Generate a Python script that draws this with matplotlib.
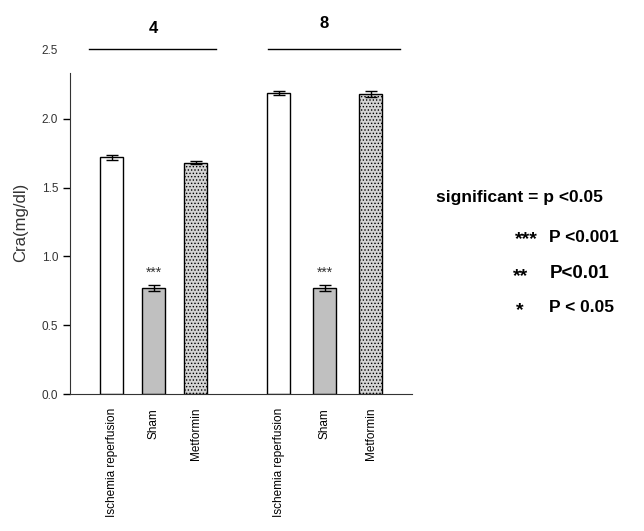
import matplotlib.pyplot as plt
import numpy as np

plt.rcParams['font.family'] = ['Liberation Sans', 'DejaVu Sans']
plt.rcParams['hatch.linewidth'] = 0.6

# data
groups = ["4", "8"]
treatments = ["Ischemia reperfusion", "Sham", "Metformin"]
cra_4 = [1.72, 0.77, 1.68]
err_4 = [0.02, 0.025, 0.01]
cra_8 = [2.19, 0.77, 2.18]
err_8 = [0.015, 0.025, 0.025]
sig_4 = ["", "***", ""]
sig_8 = ["", "***", ""]

fig = plt.figure(figsize=(6.44, 5.31), dpi=100)

ax = fig.add_axes([0.1087, 0.258, 0.5311, 0.648])

styles = [dict(color='white', edgecolor='black'),
          dict(color='#c0c0c0', edgecolor='black'),
          dict(color='#d4d4d4', edgecolor='black', hatch='.....')]

# header line extents / label heights differ a little per group in the original
line_off = [(-23, 20), (-11, 29)]
label_y = [2.60, 2.64]

all_pos, all_lab = [], []
for g, (vals, errs, sigs) in enumerate([(cra_4, err_4, sig_4), (cra_8, err_8, sig_8)]):
    pos = 41.5 + g * 167 + np.arange(3) * (42 + 4 * g)
    for i in range(3):
        ax.bar(pos[i], vals[i], width=23, linewidth=1, **styles[i])
        ax.errorbar(pos[i], vals[i], yerr=errs[i], fmt='none', ecolor='black',
                    elinewidth=1, capsize=4, capthick=1)
        if sigs[i]:
            ax.text(pos[i], vals[i] + 0.06, sigs[i], ha='center', va='bottom',
                    fontsize=10, color='#333333')
    # group header
    lo, hi = line_off[g]
    ax.plot([pos[0] + lo, pos[2] + hi], [2.51, 2.51], color='black', lw=1, clip_on=False)
    ax.text(pos[1], label_y[g], groups[g], ha='center', va='bottom', fontsize=12, weight='bold')
    all_pos += list(pos)
    all_lab += treatments

ax.set_xlim(0, 342)
ax.set_ylim(0, 2.5)
ax.set_xticks(all_pos)
ax.set_xticklabels(all_lab, rotation=90, va='top', fontsize=8.5)
ax.tick_params(axis='x', length=0, pad=10)
ax.set_yticks([0, 0.5, 1.0, 1.5, 2.0, 2.5])
ax.set_yticklabels(['0.0', '0.5', '1.0', '1.5', '2.0', '2.5'], fontsize=8.5, color='#333333')
ax.tick_params(axis='y', length=5, direction='out', width=1)
ax.yaxis.get_major_ticks()[-1].tick1line.set_visible(False)
ax.set_ylabel("Cra(mg/dl)", fontsize=12, color='#333333', labelpad=10)

for s in ['top', 'right']:
    ax.spines[s].set_visible(False)
ax.spines['left'].set_bounds(0, 2.33)
ax.spines['left'].set_color('#333333')
ax.spines['bottom'].set_color('#333333')

# significance legend
fig.text(0.677, 0.628, "significant = p <0.05", fontsize=12.5, weight='bold', va='center')
fig.text(0.799, 0.548, "***", fontsize=14, weight='bold', va='center')
fig.text(0.853, 0.553, "P <0.001", fontsize=12.5, weight='bold', va='center')
fig.text(0.796, 0.480, "**", fontsize=14, weight='bold', va='center')
fig.text(0.853, 0.485, "P<0.01", fontsize=13.5, weight='bold', va='center')
fig.text(0.801, 0.415, "*", fontsize=14, weight='bold', va='center')
fig.text(0.853, 0.42, "P < 0.05", fontsize=12.5, weight='bold', va='center')

fig.savefig("out.png", dpi=100)
